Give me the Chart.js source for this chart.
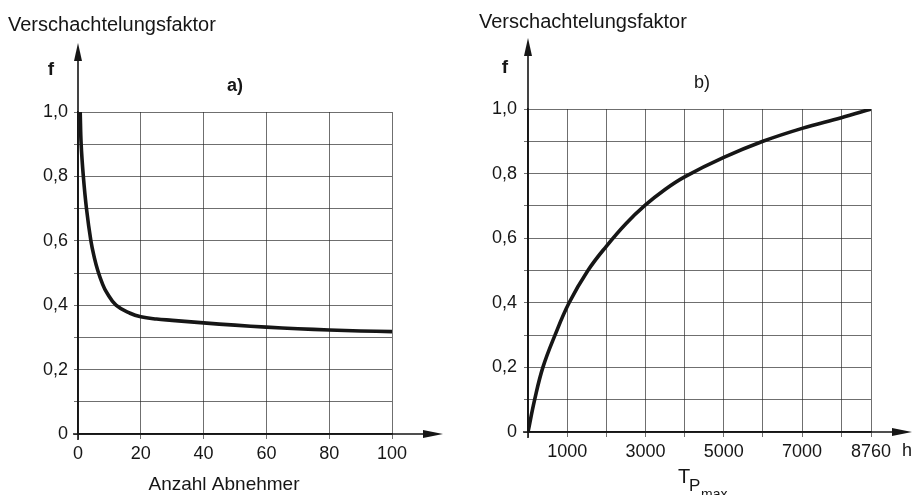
<!DOCTYPE html>
<html>
<head>
<meta charset="utf-8">
<script src="https://cdn.jsdelivr.net/npm/chart.js@4/dist/chart.umd.min.js"></script>
<style>
body { margin: 0; background: #fff; }
#wrap { display: flex; width: 912px; height: 495px; }
canvas { display: block; }
</style>
</head>
<body>
<div id="wrap">
<canvas id="leftChart" width="456" height="495"></canvas>
<canvas id="rightChart" width="456" height="495"></canvas>
</div>
<script>
// a) Verschachtelungsfaktor ueber Anzahl Abnehmer
const abnehmer = [0.7, 1, 1.7, 2.7, 4.1, 5.2, 6.3, 7.8, 9.1, 12.1, 16.6, 20, 25, 30, 40, 50, 60, 70, 80, 90, 100];
const faktorA = [1.0, 0.9, 0.8, 0.7, 0.6, 0.548, 0.508, 0.466, 0.44, 0.4, 0.375, 0.364, 0.357, 0.353, 0.345, 0.338, 0.332, 0.327, 0.323, 0.32, 0.318];
const gridA = [0, 20, 40, 60, 80, 100];

// b) Verschachtelungsfaktor ueber T_Pmax
const tpmax = [0, 170, 380, 690, 1050, 1530, 2000, 2500, 3000, 3500, 4000, 5000, 6000, 7000, 8000, 8760];
const faktorB = [0, 0.1, 0.2, 0.3, 0.4, 0.5, 0.575, 0.645, 0.703, 0.751, 0.79, 0.85, 0.9, 0.94, 0.973, 1.0];
const gridB = [0, 1000, 2000, 3000, 4000, 5000, 6000, 7000, 8000, 8760];
const labelsB = [1000, 3000, 5000, 7000, 8760];

const gridY = [0, 0.1, 0.2, 0.3, 0.4, 0.5, 0.6, 0.7, 0.8, 0.9, 1.0];

const FONT = "'Liberation Sans', Arial, sans-serif";
const INK = '#161616';

function yLabel(v) {
    const t = Math.round(v * 10);
    if (t % 2) return '';
    return t === 0 ? '0' : (t / 10).toFixed(1).replace('.', ',');
}

// axis arrows and the loose texts around each plot
function decor(cfg) {
    return {
        id: 'decor',
        afterDraw(chart) {
            const ctx = chart.ctx, a = chart.chartArea;
            ctx.save();
            ctx.strokeStyle = INK;
            ctx.fillStyle = INK;
            ctx.lineWidth = 1.6;
            ctx.beginPath();
            ctx.moveTo(a.left, a.bottom + 6);
            ctx.lineTo(a.left, cfg.yTip + 12);
            ctx.moveTo(a.left - 5, a.bottom);
            ctx.lineTo(cfg.xTip - 12, a.bottom);
            ctx.stroke();
            ctx.beginPath();
            ctx.moveTo(a.left, cfg.yTip);
            ctx.lineTo(a.left - 4, cfg.yTip + 18);
            ctx.lineTo(a.left + 4, cfg.yTip + 18);
            ctx.closePath();
            ctx.fill();
            ctx.beginPath();
            ctx.moveTo(cfg.xTip, a.bottom);
            ctx.lineTo(cfg.xTip - 20, a.bottom - 4);
            ctx.lineTo(cfg.xTip - 20, a.bottom + 4);
            ctx.closePath();
            ctx.fill();
            cfg.texts.forEach(t => {
                ctx.font = t.font;
                ctx.textAlign = t.align || 'left';
                ctx.textBaseline = t.base || 'alphabetic';
                ctx.fillText(t.text, t.x, t.y);
            });
            ctx.restore();
        }
    };
}

function setChart(id, xs, ys, xmax, xgrid, xlabel, pad, deco) {
    const ctx = document.getElementById(id).getContext('2d');
    return new Chart(ctx, {
        type: 'line',
        data: {
            datasets: [{
                data: xs.map((x, i) => ({ x: x, y: ys[i] })),
                borderColor: INK,
                borderWidth: 3.6,
                pointRadius: 0,
                tension: 0.4,
                fill: false
            }]
        },
        options: {
            responsive: false,
            animation: false,
            events: [],
            layout: { padding: { left: 0, right: pad.right, top: pad.top, bottom: 0 } },
            plugins: { legend: { display: false }, tooltip: { enabled: false } },
            scales: {
                x: {
                    type: 'linear',
                    min: 0,
                    max: xmax,
                    afterBuildTicks: s => { s.ticks = xgrid.map(v => ({ value: v })); },
                    afterFit: s => { s.height = pad.xh; },
                    grid: { color: 'rgba(40,40,40,0.75)', lineWidth: 0.9, tickLength: 5 },
                    border: { color: INK, width: 1.6 },
                    ticks: {
                        autoSkip: false, maxRotation: 0, padding: 4, color: INK,
                        font: { family: FONT, size: 18 },
                        callback: xlabel
                    }
                },
                y: {
                    min: 0,
                    max: 1,
                    afterBuildTicks: s => { s.ticks = gridY.map(v => ({ value: v })); },
                    afterFit: s => { s.width = pad.yw; },
                    grid: { color: 'rgba(40,40,40,0.75)', lineWidth: 0.9, tickLength: 4 },
                    border: { color: INK, width: 1.6 },
                    ticks: {
                        autoSkip: false, padding: pad.ypad, color: INK,
                        font: { family: FONT, size: 18 },
                        callback: v => yLabel(v)
                    }
                }
            }
        },
        plugins: [decor(deco)]
    });
}

var leftChart = setChart('leftChart', abnehmer, faktorA, 100, gridA,
    v => String(v),
    { right: 64, top: 112, xh: 61, yw: 78, ypad: 6 },
    {
        yTip: 43, xTip: 443,
        texts: [
            { text: 'Verschachtelungsfaktor', x: 8, y: 31, font: '20px ' + FONT },
            { text: 'f', x: 51, y: 75, font: 'bold 19px ' + FONT, align: 'center' },
            { text: 'a)', x: 235, y: 91, font: 'bold 18px ' + FONT, align: 'center' },
            { text: 'Anzahl Abnehmer', x: 224, y: 490, font: '19px ' + FONT, align: 'center' }
        ]
    });

var rightChart = setChart('rightChart', tpmax, faktorB, 8760, gridB,
    v => labelsB.includes(v) ? String(v) : '',
    { right: 41, top: 109, xh: 63, yw: 72, ypad: 7 },
    {
        yTip: 38, xTip: 456,
        texts: [
            { text: 'Verschachtelungsfaktor', x: 23, y: 28, font: '20px ' + FONT },
            { text: 'f', x: 49, y: 73, font: 'bold 19px ' + FONT, align: 'center' },
            { text: 'b)', x: 246, y: 88, font: '18px ' + FONT, align: 'center' },
            { text: 'h', x: 446, y: 451, font: '18px ' + FONT, base: 'middle' },
            { text: 'T', x: 222, y: 483, font: '20px ' + FONT },
            { text: 'P', x: 233, y: 491, font: '17px ' + FONT },
            { text: 'max', x: 245, y: 499, font: '14px ' + FONT }
        ]
    });
</script>
</body>
</html>
